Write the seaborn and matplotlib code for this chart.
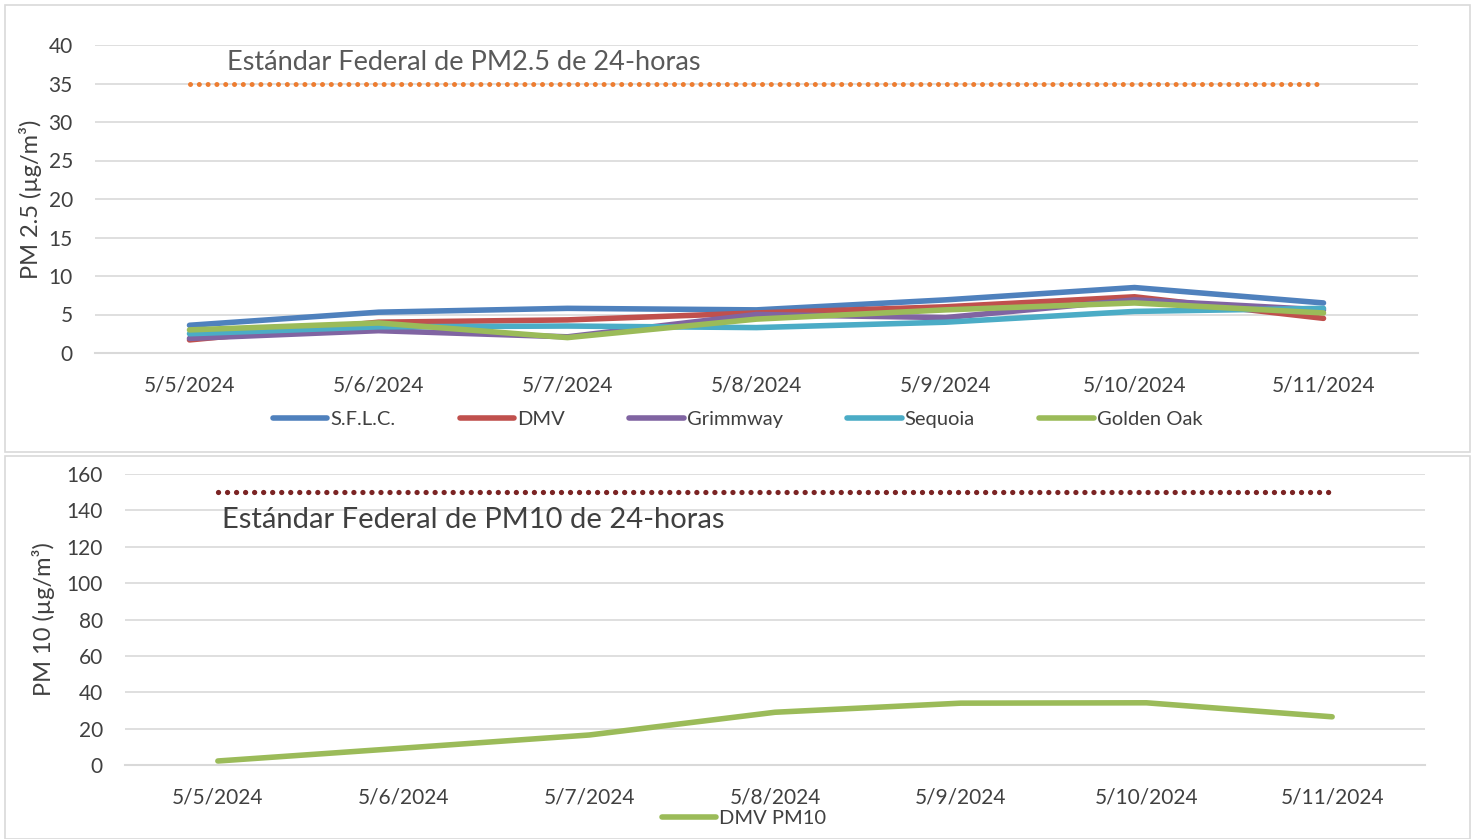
import pandas as pd
import numpy as np
import matplotlib.pyplot as plt
import seaborn as sns
from matplotlib.lines import Line2D
from matplotlib.patches import Rectangle

# ---------------------------------------------------------
# Data
# ---------------------------------------------------------
dates = ["5/5/2024", "5/6/2024", "5/7/2024", "5/8/2024",
         "5/9/2024", "5/10/2024", "5/11/2024"]

sflc = [3.6, 5.3, 5.8, 5.6, 6.9, 8.5, 6.5]
dmv = [1.7, 4.0, 4.3, 5.2, 6.0, 7.3, 4.5]
grimmway = [1.9, 2.9, 2.1, 5.0, 4.6, 6.9, 5.6]
sequoia = [2.5, 3.4, 3.5, 3.3, 4.0, 5.4, 5.8]
golden_oak = [3.0, 3.9, 2.0, 4.4, 5.6, 6.5, 5.2]
pm25_std = [35, 35, 35, 35, 35, 35, 35]

dmv_pm10 = [2.2, 9.3, 16.5, 29.0, 34.0, 34.2, 26.5]
pm10_std = [150, 150, 150, 150, 150, 150, 150]

sites = ["S.F.L.C.", "DMV", "Grimmway", "Sequoia", "Golden Oak"]
site_values = [sflc, dmv, grimmway, sequoia, golden_oak]
colors = ["#4F81BD", "#C0504D", "#8064A2", "#4BACC6", "#9BBB59"]

FONT = "Lato"
TXT = "#404040"
GRID = "#D9D9D9"

sns.set_theme(style="white")
plt.rcParams["font.family"] = [FONT, "DejaVu Sans"]

pm25 = pd.DataFrame({
    "date": dates * len(sites),
    "value": sum(site_values, []),
    "site": [s for s in sites for _ in dates],
})
pm10 = pd.DataFrame({"date": dates, "value": dmv_pm10})

fig = plt.figure(figsize=(14.75, 8.39), dpi=100)

# panel frames
for y0, h in [(1 - 452 / 839, 447 / 839), (0.0, 383 / 839)]:
    fig.add_artist(Rectangle((5 / 1475, y0), 1465 / 1475, h, transform=fig.transFigure,
                             fill=False, edgecolor=GRID, linewidth=1.2))


def style_axis(ax, ymax, ystep):
    ax.set_xlim(-0.5, len(dates) - 0.5)
    ax.set_ylim(0, ymax)
    ax.set_yticks(np.arange(0, ymax + 1, ystep))
    ax.grid(axis="y", color=GRID, linewidth=1.2)
    ax.set_axisbelow(True)
    for s in ["top", "right", "left"]:
        ax.spines[s].set_visible(False)
    ax.spines["bottom"].set_color(GRID)
    ax.spines["bottom"].set_linewidth(1.5)
    ax.set_xticks(range(len(dates)))
    ax.set_xticklabels(dates)
    ax.set_xticks(np.arange(-0.5, len(dates)), minor=True)
    ax.tick_params(axis="x", which="major", length=0, pad=16, labelsize=15, colors=TXT)
    ax.tick_params(axis="x", which="minor", length=8, width=1.5, color=GRID)
    ax.tick_params(axis="y", length=0, pad=16, labelsize=15, colors=TXT)
    ax.set_xlabel("")


# ---------------------------------------------------------
# Top: PM 2.5
# ---------------------------------------------------------
ax1 = fig.add_axes([95 / 1475, 1 - 353 / 839, 1323 / 1475, 308 / 839])
sns.lineplot(x=dates, y=pm25_std, ax=ax1, color="#ED7D31", linewidth=3.6,
             linestyle=(0, (0.01, 1.75)), dash_capstyle="round", sort=False)
sns.lineplot(data=pm25, x="date", y="value", hue="site", palette=dict(zip(sites, colors)),
             linewidth=4, ax=ax1, sort=False, legend=False,
             solid_capstyle="round", solid_joinstyle="round")
style_axis(ax1, 40, 5)
ax1.set_ylabel("PM 2.5 (µg/m³)", fontsize=17, color=TXT, labelpad=5)
ax1.text(0.2, 37.7, "Estándar Federal de PM2.5 de 24-horas", fontsize=19.5,
         color="#595959", va="center", ha="left")
handles = [Line2D([], [], color=c, linewidth=4) for c in colors]
ax1.legend(handles, sites, loc="center", bbox_to_anchor=(0.5, 1 - 419 / 839),
           bbox_transform=fig.transFigure, ncol=5,
           frameon=False, handlelength=2.7, handletextpad=0.15, columnspacing=3.2,
           fontsize=14.5, labelcolor=TXT)

# ---------------------------------------------------------
# Bottom: PM 10
# ---------------------------------------------------------
ax2 = fig.add_axes([125 / 1475, 1 - 765 / 839, 1300 / 1475, 291 / 839])
sns.lineplot(x=dates, y=pm10_std, ax=ax2, color="#7B2424", linewidth=3.8,
             linestyle=(0, (0.01, 1.7)), dash_capstyle="round", sort=False)
sns.lineplot(data=pm10, x="date", y="value", color="#9BBB59", linewidth=4,
             ax=ax2, sort=False, solid_capstyle="round", solid_joinstyle="round")
style_axis(ax2, 160, 20)
ax2.set_ylabel("PM 10 (µg/m³)", fontsize=17, color=TXT, labelpad=8)
ax2.text(0.02, 134.5, "Estándar Federal de PM10 de 24-horas", fontsize=21,
         color="#404040", va="center", ha="left")
ax2.legend([Line2D([], [], color="#9BBB59", linewidth=4)], ["DMV PM10"],
           loc="center", bbox_to_anchor=(744 / 1475, 1 - 818 / 839),
           bbox_transform=fig.transFigure, frameon=False,
           handlelength=2.7, handletextpad=0.15, fontsize=14.5, labelcolor=TXT)

fig.savefig("out.png", dpi=100)
